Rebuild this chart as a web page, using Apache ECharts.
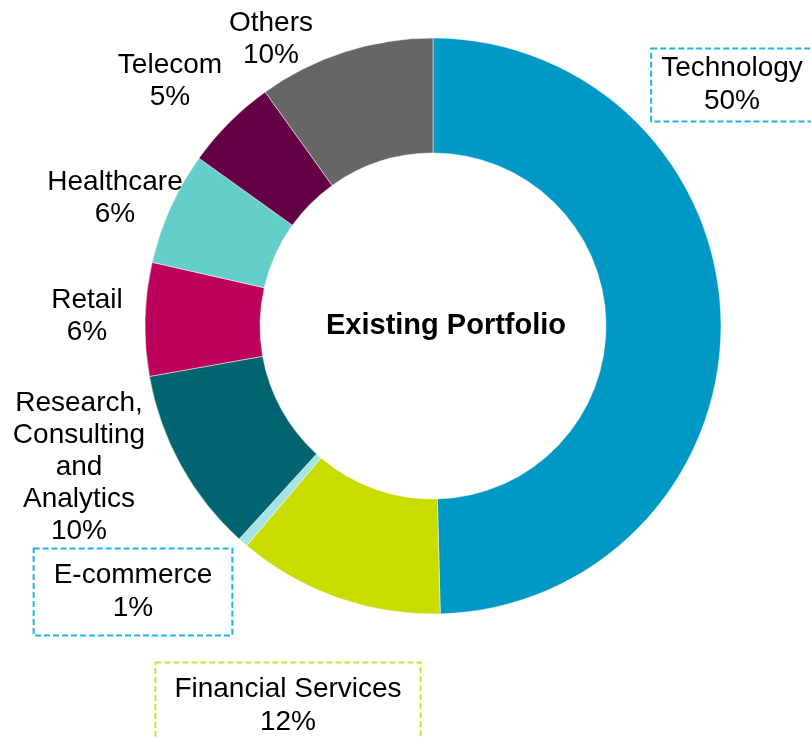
<!DOCTYPE html>
<html>
<head>
<meta charset="utf-8">
<script src="https://cdn.jsdelivr.net/npm/echarts@6/dist/echarts.min.js"></script>
<style>
html,body{margin:0;padding:0;background:#fff;}
#chart{width:811px;height:738px;}
</style>
</head>
<body>
<div id="chart"></div>
<script>
// Data (clockwise from 12 o'clock)
const categories = ['Technology', 'Financial Services', 'E-commerce', 'Research,\nConsulting\nand\nAnalytics', 'Retail', 'Healthcare', 'Telecom', 'Others'];
const shares = [49.6, 11.6, 0.55, 10.45, 6.35, 6.35, 5.2, 9.9];
const sliceColors = ['#0099C6', '#C8DC00', '#A6E3E3', '#006570', '#BD005A', '#63CECA', '#640044', '#666666'];
const centerTitle = 'Existing Portfolio';

// Label placement (layout only)
const labelPos = [[732, 85], [288, 706], [133, 592], [79, 467], [87, 316], [115, 198], [170, 81], [271, 39]];
const boxed = {
  0: { color: '#1DB5E6', padding: [3, 10, 3, 10] },
  1: { color: '#CFE03A', padding: [10, 19, 10, 19] },
  2: { color: '#1DB5E6', padding: [10, 20, 10, 20] }
};

const FONT = '"Liberation Sans", Arial, sans-serif';

const data = categories.map((name, i) => {
  const item = { name: name, value: shares[i], itemStyle: { color: sliceColors[i] } };
  if (boxed[i]) {
    item.label = {
      borderColor: boxed[i].color,
      borderWidth: 2,
      borderType: [6, 3],
      padding: boxed[i].padding,
      lineHeight: 33.5
    };
  }
  return item;
});

const chart = echarts.init(document.getElementById('chart'), null, { renderer: 'canvas' });
chart.setOption({
  animation: false,
  backgroundColor: '#ffffff',
  graphic: [{
    type: 'text',
    x: 446,
    y: 326,
    style: {
      text: centerTitle,
      align: 'center',
      verticalAlign: 'middle',
      fontFamily: FONT,
      fontSize: 29,
      fontWeight: 'bold',
      fill: '#000000'
    }
  }],
  series: [{
    type: 'pie',
    center: [433, 326],
    radius: [173, 288],
    startAngle: 90,
    clockwise: true,
    avoidLabelOverlap: false,
    itemStyle: { borderColor: '#ffffff', borderWidth: 0.5 },
    label: {
      show: true,
      position: 'outside',
      fontFamily: FONT,
      fontSize: 28,
      lineHeight: 32,
      color: '#000000',
      align: 'center',
      formatter: p => p.name + '\n' + Math.round(p.percent) + '%'
    },
    labelLine: { show: false },
    labelLayout: function (params) {
      const p = labelPos[params.dataIndex];
      return { x: p[0], y: p[1], align: 'center', verticalAlign: 'middle' };
    },
    emphasis: { disabled: true },
    data: data
  }]
});
</script>
</body>
</html>
